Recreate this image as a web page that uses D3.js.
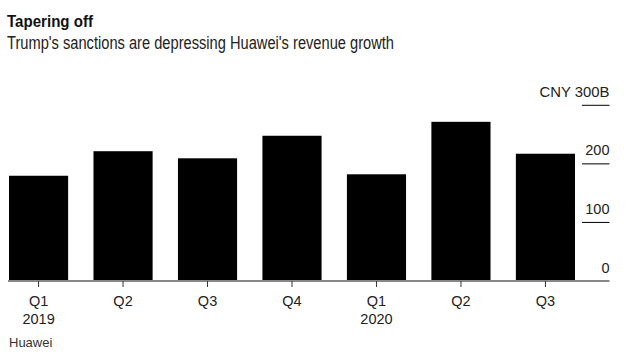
<!DOCTYPE html>
<html>
<head>
<meta charset="utf-8">
<script src="https://cdn.jsdelivr.net/npm/d3@7"></script>
<style>
  html, body { margin: 0; padding: 0; background: #fff; }
  svg { display: block; font-family: "Liberation Sans", Arial, sans-serif; }
</style>
</head>
<body>
<svg id="chart" width="630" height="355"></svg>
<script>
const quarters = ["Q1", "Q2", "Q3", "Q4", "Q1", "Q2", "Q3"];
const years = ["2019", "", "", "", "2020", "", ""];
const revenue = [179.7, 221.6, 209.5, 248.0, 182.2, 271.8, 217.3]; // CNY billions
const yTicks = [0, 100, 200, 300];
const yTickLabels = ["0", "100", "200", "CNY 300B"];

const svg = d3.select("#chart");
const keys = quarters.map((q, i) => i);

const x = d3.scaleBand().domain(keys).range([9, 575]).paddingInner(0.3).paddingOuter(0);
const y = d3.scaleLinear().domain([0, 300]).range([281, 105.3]);

// Title & subtitle
svg.append("text").attr("x", 7).attr("y", 27.3)
  .attr("font-size", 16.3).attr("font-weight", "bold").attr("fill", "#111")
  .attr("textLength", 86).attr("lengthAdjust", "spacingAndGlyphs")
  .text("Tapering off");
svg.append("text").attr("x", 7).attr("y", 49.3)
  .attr("font-size", 17.5).attr("fill", "#222")
  .attr("textLength", 387).attr("lengthAdjust", "spacingAndGlyphs")
  .text("Trump's sanctions are depressing Huawei's revenue growth");

// Bars
svg.append("g").selectAll("rect").data(revenue).join("rect")
  .attr("x", (d, i) => x(i))
  .attr("width", x.bandwidth())
  .attr("y", d => y(d))
  .attr("height", d => y(0) - y(d))
  .attr("fill", "#000");

// Y gridlines (short, on the right) and labels
const gx0 = 582, gx1 = 609.5;
const yg = svg.append("g");
yg.selectAll("line").data(yTicks.filter(t => t > 0)).join("line")
  .attr("x1", gx0).attr("x2", gx1)
  .attr("y1", d => y(d)).attr("y2", d => y(d))
  .attr("stroke", "#000").attr("stroke-width", 1);
yg.selectAll("text").data(yTicks).join("text")
  .attr("x", gx1).attr("y", d => y(d) - 8.5)
  .attr("text-anchor", "end")
  .attr("font-size", 14.5).attr("fill", "#222")
  .attr("textLength", (d, i) => i === 3 ? 70 : null)
  .attr("lengthAdjust", "spacingAndGlyphs")
  .text((d, i) => yTickLabels[i]);

// X axis line
svg.append("line").attr("x1", 8).attr("x2", gx1)
  .attr("y1", y(0)).attr("y2", y(0))
  .attr("stroke", "#888").attr("stroke-width", 2);

// X ticks and labels
const xg = svg.append("g").selectAll("g").data(keys).join("g")
  .attr("transform", d => `translate(${x(d) + x.bandwidth() / 2},0)`);
xg.append("line").attr("y1", y(0)).attr("y2", y(0) + 6)
  .attr("stroke", "#333").attr("stroke-width", 1);
xg.append("text").attr("y", 306).attr("text-anchor", "middle")
  .attr("font-size", 14.5).attr("fill", "#222")
  .text(d => quarters[d]);
xg.append("text").attr("y", 324).attr("text-anchor", "middle")
  .attr("font-size", 14.5).attr("fill", "#222")
  .text(d => years[d]);

// Source
svg.append("text").attr("x", 9).attr("y", 347)
  .attr("font-size", 13).attr("fill", "#333")
  .text("Huawei");
</script>
</body>
</html>
